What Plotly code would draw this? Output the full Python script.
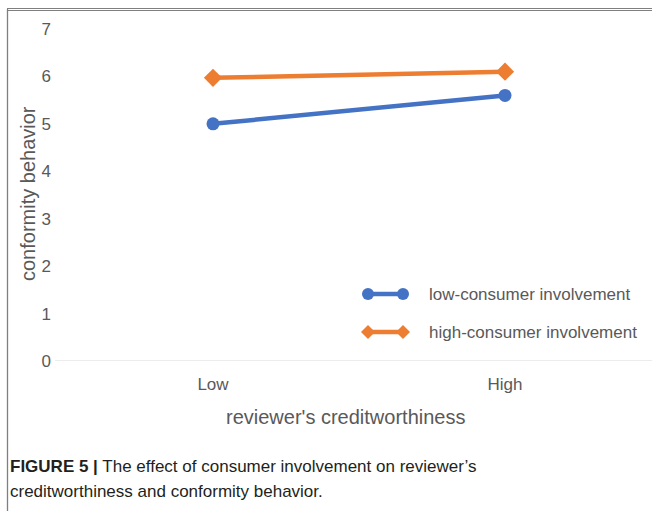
import plotly.graph_objects as go

categories = ["Low", "High"]
low_involvement = [5.0, 5.6]
high_involvement = [5.97, 6.1]
series_names = ["low-consumer involvement", "high-consumer involvement"]
y_ticks = [0, 1, 2, 3, 4, 5, 6, 7]

W, H = 652, 511
L, R, T, B = 67, 1, 29, 150
pw, ph = W - L - R, H - T - B

BLUE = "#4472C4"
ORANGE = "#ED7D31"
GRAY = "#595959"
FONT = "Liberation Sans, Arial, sans-serif"


def px(x):
    return (x - L) / pw


def py(y):
    return (H - B - y) / ph


fig = go.Figure()
fig.add_trace(go.Scatter(
    x=categories, y=low_involvement, name=series_names[0], mode="lines+markers",
    line=dict(color=BLUE, width=4.5), marker=dict(symbol="circle", size=13, color=BLUE)))
fig.add_trace(go.Scatter(
    x=categories, y=high_involvement, name=series_names[1], mode="lines+markers",
    line=dict(color=ORANGE, width=4.5), marker=dict(symbol="diamond", size=14, color=ORANGE)))

fig.update_layout(
    width=W, height=H,
    margin=dict(l=L, r=R, t=T, b=B, autoexpand=False),
    paper_bgcolor="white", plot_bgcolor="white",
    font=dict(family=FONT, size=17, color=GRAY),
    showlegend=False,
    xaxis=dict(type="category", range=[-0.5, 1.5], showgrid=False, zeroline=False,
               showline=False, ticks="", tickfont=dict(size=17, color=GRAY),
               ticklabelstandoff=11),
    yaxis=dict(range=[0, 7], tickvals=y_ticks, showgrid=False, zeroline=False,
               showline=False, ticks="", tickfont=dict(size=17, color=GRAY),
               ticklabelstandoff=15),
)

# axis titles
fig.add_annotation(text="conformity behavior", xref="paper", yref="paper",
                   x=px(28), y=py(194), xanchor="center", yanchor="middle",
                   textangle=-90, showarrow=False,
                   font=dict(size=20, color=GRAY))
fig.add_annotation(text="reviewer's creditworthiness", xref="paper", yref="paper",
                   x=px(345), y=py(417), xanchor="center", yanchor="middle", showarrow=False,
                   font=dict(size=20, color=GRAY))

# custom legend (line with markers at both ends, as in the original)
legend_rows = [(294, BLUE, "circle"), (332, ORANGE, "diamond")]
for (ly, col, sym), name in zip(legend_rows, series_names):
    fig.add_shape(type="line", xref="paper", yref="paper",
                  x0=px(368), x1=px(403), y0=py(ly), y1=py(ly),
                  line=dict(color=col, width=4.5))
    for cx in (368, 403):
        if sym == "circle":
            r = 6
            fig.add_shape(type="circle", xref="paper", yref="paper",
                          x0=px(cx - r), x1=px(cx + r), y0=py(ly - r), y1=py(ly + r),
                          fillcolor=col, line=dict(color=col, width=0))
        else:
            r = 7
            path = (f"M {px(cx - r)} {py(ly)} L {px(cx)} {py(ly - r)} "
                    f"L {px(cx + r)} {py(ly)} L {px(cx)} {py(ly + r)} Z")
            fig.add_shape(type="path", xref="paper", yref="paper", path=path,
                          fillcolor=col, line=dict(color=col, width=0))
    fig.add_annotation(text=name, xref="paper", yref="paper", x=px(427), y=py(ly),
                       xanchor="left", yanchor="middle", showarrow=False,
                       font=dict(size=17, color=GRAY))

# caption
CAP_FONT = dict(family="Liberation Sans, Arial, sans-serif", size=17, color="#231f20")
fig.add_annotation(text="<b>FIGURE 5 |</b> The effect of consumer involvement on reviewer’s",
                   xref="paper", yref="paper", x=px(8), y=py(466), xanchor="left", yanchor="middle",
                   align="left", showarrow=False, font=CAP_FONT)
fig.add_annotation(text="creditworthiness and conformity behavior.",
                   xref="paper", yref="paper", x=px(8), y=py(491), xanchor="left", yanchor="middle",
                   align="left", showarrow=False, font=CAP_FONT)

# baseline at zero
fig.add_shape(type="line", xref="paper", yref="y", x0=px(55), x1=px(652), y0=0, y1=0,
              line=dict(color="#D9D9D9", width=1))
# frame border: left edge as a shape, top edge as a flat annotation box
fig.add_shape(type="line", xref="paper", yref="paper",
              x0=px(7.5), x1=px(7.5), y0=py(9), y1=py(511),
              line=dict(color="#7f7f7f", width=1.3))
fig.add_annotation(text="", xref="paper", yref="paper", x=px(7), y=py(8.5),
                   xanchor="left", yanchor="top", width=700, height=1, showarrow=False,
                   borderwidth=1, bordercolor="#7f7f7f", borderpad=0,
                   bgcolor="rgba(0,0,0,0)")

fig.write_html("out.html", config={"displayModeBar": False},
               post_script="document.body.style.margin='0';document.body.style.overflow='hidden';")
